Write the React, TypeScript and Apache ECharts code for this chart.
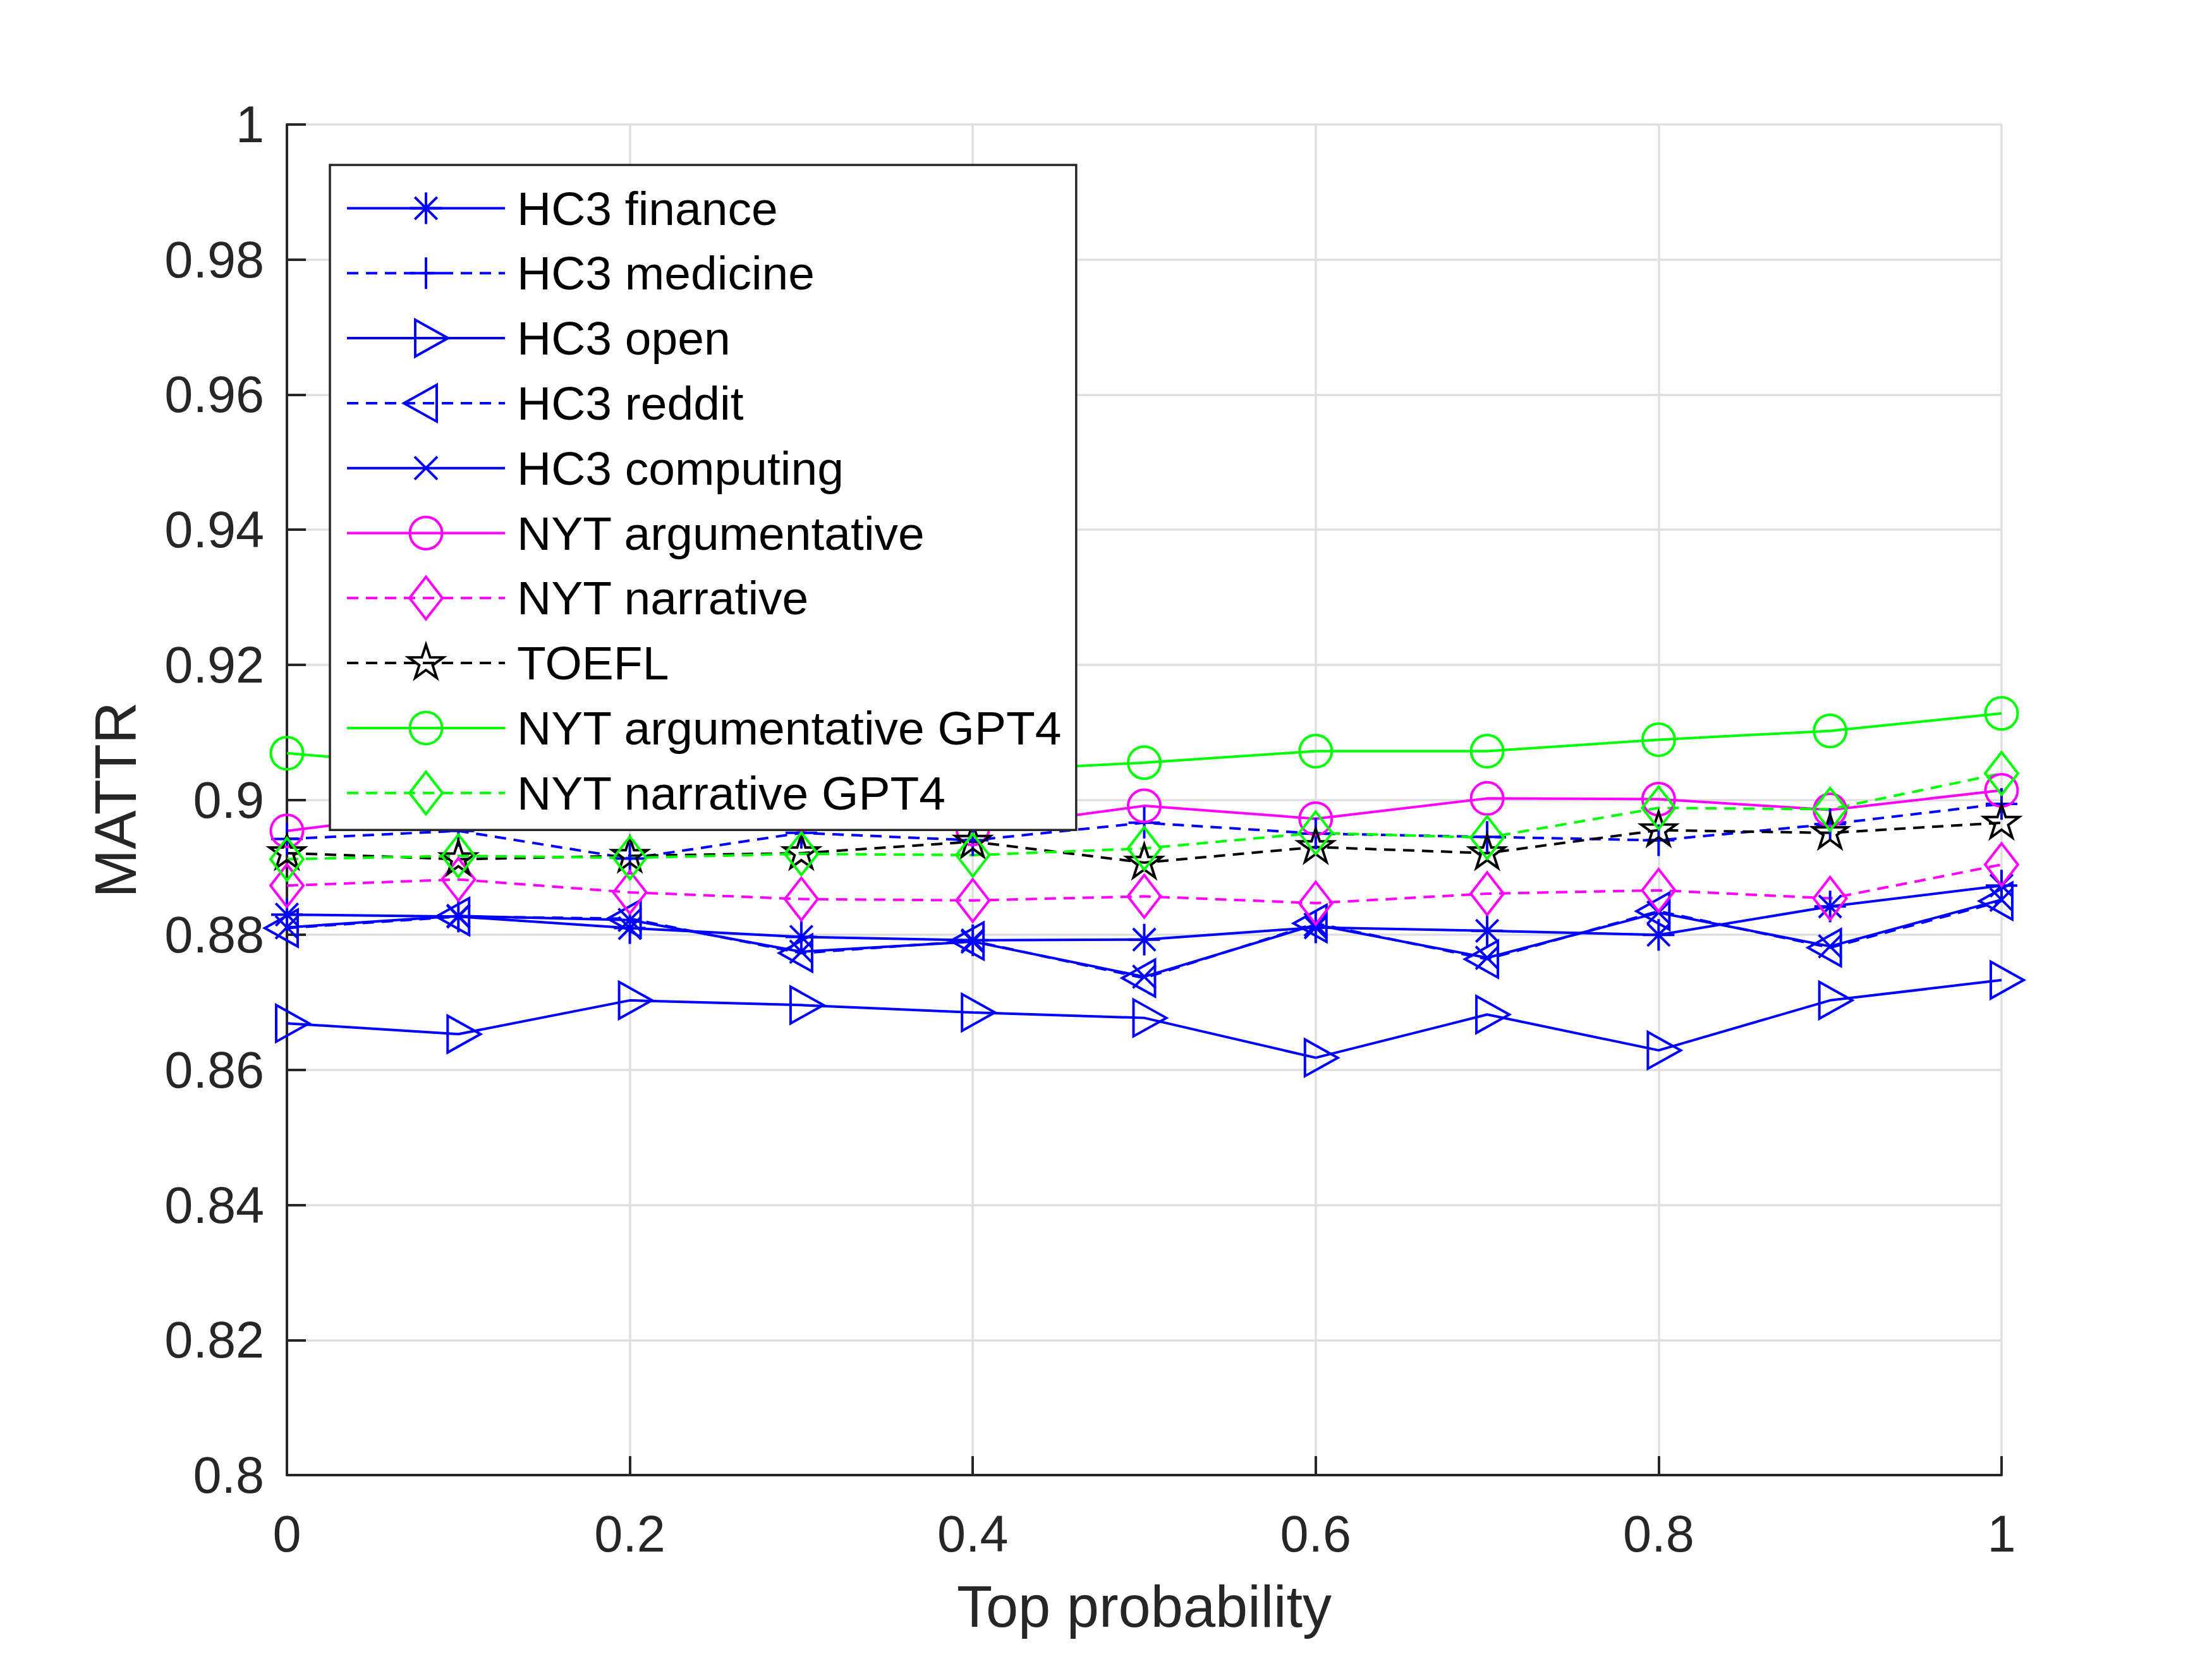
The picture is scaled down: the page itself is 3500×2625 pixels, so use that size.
import React, { useEffect, useRef } from "react";
import * as echarts from "echarts";

// ---------- data ----------
const topProbability = [0, 0.1, 0.2, 0.3, 0.4, 0.5, 0.6, 0.7, 0.8, 0.9, 1.0];

const hc3Finance = [0.8830, 0.8827, 0.8810, 0.8797, 0.8792, 0.8793, 0.8811, 0.8806, 0.8800, 0.8842, 0.8873];
const hc3Medicine = [0.8942, 0.8954, 0.8913, 0.8951, 0.8940, 0.8966, 0.8950, 0.8945, 0.8940, 0.8964, 0.8994];
const hc3Open = [0.8669, 0.8653, 0.8703, 0.8696, 0.8685, 0.8677, 0.8618, 0.8682, 0.8629, 0.8703, 0.8733];
const hc3Reddit = [0.8810, 0.8827, 0.8824, 0.8773, 0.8791, 0.8736, 0.8817, 0.8764, 0.8835, 0.8781, 0.8850];
const hc3Computing = [0.8811, 0.8828, 0.8822, 0.8775, 0.8790, 0.8738, 0.8815, 0.8766, 0.8833, 0.8783, 0.8852];
const nytArgumentative = [0.8954, 0.8985, 0.8982, 0.8978, 0.8957, 0.8991, 0.8972, 0.9002, 0.9001, 0.8985, 0.9014];
const nytNarrative = [0.8873, 0.8882, 0.8863, 0.8853, 0.8851, 0.8857, 0.8847, 0.8861, 0.8866, 0.8854, 0.8904];
const toefl = [0.8921, 0.8912, 0.8917, 0.8921, 0.8938, 0.8907, 0.8930, 0.8921, 0.8955, 0.8951, 0.8966];
const nytArgumentativeGpt4 = [0.9069, 0.9048, 0.9046, 0.9044, 0.9042, 0.9055, 0.9072, 0.9072, 0.9089, 0.9102, 0.9128];
const nytNarrativeGpt4 = [0.8912, 0.8917, 0.8914, 0.8920, 0.8918, 0.8928, 0.8951, 0.8944, 0.8988, 0.8986, 0.9039];

const seriesNames = [
  "HC3 finance",
  "HC3 medicine",
  "HC3 open",
  "HC3 reddit",
  "HC3 computing",
  "NYT argumentative",
  "NYT narrative",
  "TOEFL",
  "NYT argumentative GPT4",
  "NYT narrative GPT4",
];
const seriesValues = [
  hc3Finance,
  hc3Medicine,
  hc3Open,
  hc3Reddit,
  hc3Computing,
  nytArgumentative,
  nytNarrative,
  toefl,
  nytArgumentativeGpt4,
  nytNarrativeGpt4,
];

const xAxisTitle = "Top probability";
const yAxisTitle = "MATTR";

// ---------- styles ----------
const BLUE = "#0000ff";
const MAGENTA = "#ff00ff";
const GREEN = "#00ff00";
const BLACK = "#000000";
const AXIS = "#262626";
const GRID = "#dfdfdf";
const FONT = "'Liberation Sans', Arial, Helvetica, sans-serif";

// symbol paths drawn in a common -36..36 box so that symbolSize 72 = 1px per unit
const BOX = "M-36 -36M36 36";
const SYM = {
  asterisk: BOX + "M0 -25L0 25M-25 0L25 0M-17.7 -17.7L17.7 17.7M-17.7 17.7L17.7 -17.7",
  plus: BOX + "M0 -25L0 25M-25 0L25 0",
  triRight: BOX + "M-17 -29L35 0L-17 29Z",
  triLeft: BOX + "M17 -29L-35 0L17 29Z",
  cross: BOX + "M-18 -18L18 18M-18 18L18 -18",
  circle: BOX + "M-25.5 0A25.5 25.5 0 1 1 25.5 0A25.5 25.5 0 1 1 -25.5 0Z",
  diamond: BOX + "M0 -33.5L26 0L0 33.5L-26 0Z",
  star:
    BOX +
    "M0 -29L6.52 -8.98L27.58 -8.96L10.56 3.43L17.05 23.46L0 11.1L-17.05 23.46L-10.56 3.43L-27.58 -8.96L-6.52 -8.98Z",
};

const seriesStyles = [
  { color: BLUE, dashed: false, symbol: SYM.asterisk },
  { color: BLUE, dashed: true, symbol: SYM.plus },
  { color: BLUE, dashed: false, symbol: SYM.triRight },
  { color: BLUE, dashed: true, symbol: SYM.triLeft },
  { color: BLUE, dashed: false, symbol: SYM.cross },
  { color: MAGENTA, dashed: false, symbol: SYM.circle },
  { color: MAGENTA, dashed: true, symbol: SYM.diamond },
  { color: BLACK, dashed: true, symbol: SYM.star },
  { color: GREEN, dashed: false, symbol: SYM.circle },
  { color: GREEN, dashed: true, symbol: SYM.diamond },
];

const DASH = [18, 12];
const LW = 4;

export default function App() {
  const ref = useRef<HTMLDivElement>(null);

  useEffect(() => {
    document.body.style.margin = "0";
    if (!ref.current) return;
    const chart = echarts.init(ref.current, undefined, { renderer: "svg" });

    const series = seriesNames.map((name, i) => {
      const st = seriesStyles[i];
      return {
        type: "line",
        name,
        data: topProbability.map((x, j) => [x, seriesValues[i][j]]),
        symbol: "path://" + st.symbol,
        symbolSize: 72,
        showAllSymbol: true,
        clip: false,
        silent: true,
        emphasis: { disabled: true },
        itemStyle: { color: "none", borderColor: st.color, borderWidth: LW },
        lineStyle: { color: st.color, width: LW, type: st.dashed ? DASH : "solid" },
      };
    });

    const legendData = seriesNames.map((name, i) => {
      const st = seriesStyles[i];
      return {
        name,
        itemStyle: { color: "none", borderColor: st.color, borderWidth: LW },
        lineStyle: { color: st.color, width: LW, type: st.dashed ? DASH : "solid" },
      };
    });

    const option = {
      animation: false,
      backgroundColor: "#ffffff",
      textStyle: { fontFamily: FONT },
      grid: { left: 454, right: 333, top: 197, bottom: 291, containLabel: false },
      xAxis: {
        type: "value",
        min: 0,
        max: 1,
        interval: 0.2,
        name: xAxisTitle,
        nameLocation: "middle",
        nameGap: 162,
        nameTextStyle: { fontSize: 92, color: AXIS, fontFamily: FONT },
        axisLine: { show: true, onZero: false, lineStyle: { color: AXIS, width: 4 } },
        axisTick: { show: true, inside: true, length: 30, lineStyle: { color: AXIS, width: 4 } },
        axisLabel: {
          fontSize: 81,
          color: AXIS,
          margin: 52,
          fontFamily: FONT,
          formatter: (v: number) => String(Math.round(v * 10) / 10),
        },
        splitLine: { show: true, lineStyle: { color: GRID, width: 3.5 } },
      },
      yAxis: {
        type: "value",
        min: 0.8,
        max: 1,
        interval: 0.02,
        name: yAxisTitle,
        nameLocation: "middle",
        nameGap: 225,
        nameTextStyle: { fontSize: 92, color: AXIS, fontFamily: FONT },
        axisLine: { show: true, onZero: false, lineStyle: { color: AXIS, width: 4 } },
        axisTick: { show: true, inside: true, length: 30, lineStyle: { color: AXIS, width: 4 } },
        axisLabel: {
          fontSize: 81,
          color: AXIS,
          margin: 36,
          fontFamily: FONT,
          formatter: (v: number) => String(Math.round(v * 100) / 100),
        },
        splitLine: { show: true, lineStyle: { color: GRID, width: 3.5 } },
      },
      legend: {
        orient: "vertical",
        left: 522,
        top: 261,
        itemWidth: 250,
        itemHeight: 90,
        itemGap: 25.8,
        padding: [30, 22, 20, 25],
        backgroundColor: "#ffffff",
        borderColor: AXIS,
        borderWidth: 3.5,
        borderRadius: 0,
        selectedMode: false,
        textStyle: { fontSize: 75, color: "#000000", fontFamily: FONT, padding: [0, 0, 0, 14] },
        data: legendData,
      },
      series,
    };

    chart.setOption(option as any);
    return () => chart.dispose();
  }, []);

  return <div ref={ref} style={{ width: 3500, height: 2625 }} />;
}
